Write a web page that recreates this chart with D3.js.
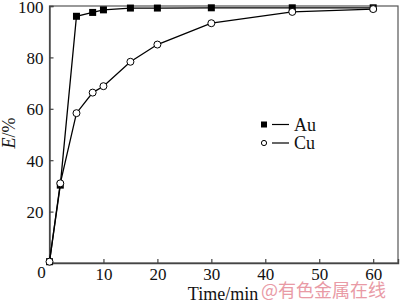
<!DOCTYPE html>
<html><head><meta charset="utf-8">
<script src="https://cdn.jsdelivr.net/npm/d3@7"></script>
<style>body{margin:0;background:#fff}svg{display:block}</style>
</head><body>
<svg id="c" width="400" height="303"></svg>
<script>
const timeMin = [0, 2, 5, 8, 10, 15, 20, 30, 45, 60];
const auValues = [0.5, 30.3, 96, 97.5, 98.5, 99.2, 99.2, 99.3, 99.3, 99.3];
const cuValues = [0.5, 31, 58.3, 66.3, 68.8, 78.3, 85, 93.3, 97.7, 98.8];
const xTicks = [0, 10, 20, 30, 40, 50, 60];
const yTicks = [0, 20, 40, 60, 80, 100];
const seriesNames = ["Au", "Cu"];

const svg = d3.select("#c");
const font = "'Liberation Serif','Times New Roman',serif";
const x = d3.scaleLinear().domain([0, 64.6]).range([49.5, 398]);
const y = d3.scaleLinear().domain([0, 100]).range([263, 6]);

// frame
svg.append("rect").attr("x", x(0)).attr("y", y(100))
  .attr("width", x(64.6) - x(0)).attr("height", y(0) - y(100))
  .attr("fill", "none").attr("stroke", "#555").attr("stroke-width", 1.2);

const xAxis = svg.append("g").attr("transform", `translate(0,${y(0)})`)
  .call(d3.axisBottom(x).tickValues(xTicks).tickSize(-4).tickPadding(5).tickFormat(d => d === 0 ? "" : d));
const yAxis = svg.append("g").attr("transform", `translate(${x(0)},0)`)
  .call(d3.axisLeft(y).tickValues(yTicks).tickSize(-4).tickPadding(6));
[xAxis, yAxis].forEach(g => {
  g.select(".domain").attr("stroke", "#444").attr("stroke-width", 1.4);
  g.selectAll(".tick line").attr("stroke", "#444").attr("stroke-width", 1.2);
  g.selectAll("text").attr("font-family", font).attr("font-size", 17).attr("fill", "#111");
});
xAxis.selectAll(".tick text").attr("dy", "0.71em");
yAxis.selectAll(".tick text").attr("dy", "0.36em");
// origin label "0"
svg.append("text").attr("x", 41.5).attr("y", 278).attr("text-anchor", "middle")
  .attr("font-family", font).attr("font-size", 17).attr("fill", "#111").text("0");
yAxis.selectAll(".tick").filter(d => d === 0).select("text").remove();

// axis titles
svg.append("text").attr("x", 223).attr("y", 300).attr("text-anchor", "middle")
  .attr("font-family", font).attr("font-size", 18).attr("fill", "#111").text("Time/min");
const yl = svg.append("text").attr("transform", "translate(15,133) rotate(-90)")
  .attr("text-anchor", "middle").attr("font-family", font).attr("font-size", 18).attr("fill", "#111");
yl.append("tspan").attr("font-style", "italic").text("E");
yl.append("tspan").text("/%");

const line = d3.line().x(d => x(d[0])).y(d => y(d[1]));
const au = timeMin.map((t, i) => [t, auValues[i]]);
const cu = timeMin.map((t, i) => [t, cuValues[i]]);

svg.append("path").datum(cu).attr("d", line).attr("fill", "none").attr("stroke", "#000").attr("stroke-width", 1.3);
svg.append("path").datum(au).attr("d", line).attr("fill", "none").attr("stroke", "#000").attr("stroke-width", 1.3);

svg.selectAll(".sq").data(au).enter().append("rect")
  .attr("x", d => x(d[0]) - 3.5).attr("y", d => y(d[1]) - 3.5)
  .attr("width", 7).attr("height", 7).attr("fill", "#000");
svg.selectAll(".ci").data(cu).enter().append("circle")
  .attr("cx", d => x(d[0])).attr("cy", d => y(d[1])).attr("r", 3.5)
  .attr("fill", "#fff").attr("stroke", "#000").attr("stroke-width", 1);

// legend
const lg = svg.append("g");
seriesNames.forEach((name, i) => {
  const cy = 124.5 + i * 18.5;
  if (i === 0) lg.append("rect").attr("x", 261).attr("y", cy - 3).attr("width", 6).attr("height", 6).attr("fill", "#000");
  else lg.append("circle").attr("cx", 264).attr("cy", cy).attr("r", 2.6).attr("fill", "#fff").attr("stroke", "#000");
  lg.append("line").attr("x1", 272).attr("x2", 289).attr("y1", cy).attr("y2", cy).attr("stroke", "#000").attr("stroke-width", 1.2);
  lg.append("text").attr("x", 294).attr("y", cy + 6).attr("font-family", font).attr("font-size", 18).attr("fill", "#111").text(name);
});

// watermark
svg.append("text").attr("x", 261).attr("y", 297).attr("font-family", "'Noto Sans CJK SC',sans-serif")
  .attr("font-size", 18).attr("fill", "#e07080").attr("opacity", 0.7).text("@有色金属在线");
</script>
</body></html>
